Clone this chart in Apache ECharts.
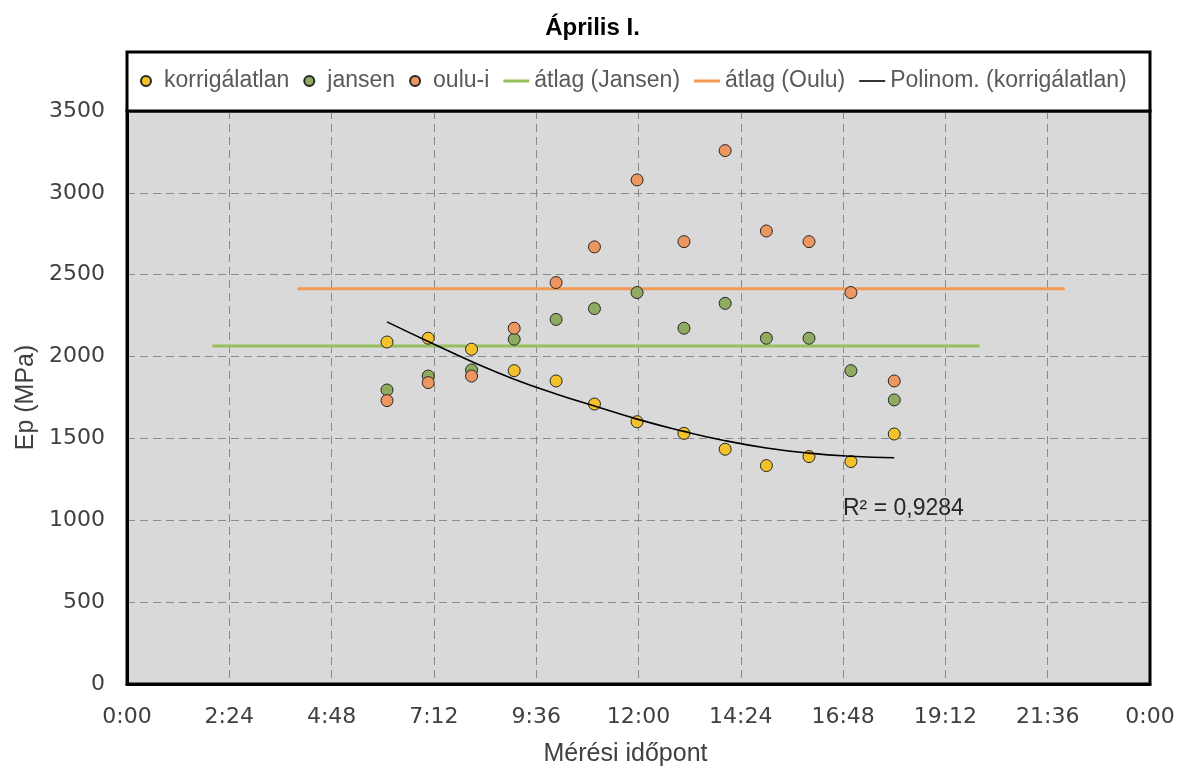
<!DOCTYPE html>
<html>
<head>
<meta charset="utf-8">
<title>Április I.</title>
<script src="https://cdn.jsdelivr.net/npm/echarts@6/dist/echarts.min.js"></script>
<style>
  html, body { margin: 0; padding: 0; background: #ffffff; }
  #chart { width: 1185px; height: 773px; }
</style>
</head>
<body>
<div id="chart"></div>
<script>
// Measurement times (H:MM) and the measured Ep values (MPa)
const measureTimes = ['6:06', '7:04', '8:05', '9:05', '10:04', '10:58', '11:58', '13:04', '14:02', '15:00', '16:00', '16:59', '18:00'];
const korrigalatlan = [2089, 2112, 2045, 1914, 1851, 1710, 1602, 1531, 1434, 1334, 1389, 1359, 1527];
const jansen = [1796, 1881, 1918, 2106, 2227, 2293, 2391, 2173, 2325, 2112, 2112, 1914, 1735];
const oulu = [1731, 1841, 1881, 2173, 2452, 2670, 3079, 2702, 3258, 2767, 2702, 2391, 1851];

// Average levels and the time span each average line covers
const avgJansen = 2065;
const avgJansenSpan = ['2:00', '20:00'];
const avgOulu = 2415;
const avgOuluSpan = ['4:00', '22:00'];

// Second-order polynomial trend of the uncorrected values
const trendTimes = ['6:06', '7:04', '8:05', '9:05', '10:04', '10:58', '11:58', '13:04', '14:02', '15:00', '16:00', '16:59', '18:00'];
const trendValues = [2212, 2092, 1970, 1862, 1772, 1698, 1618, 1543, 1486, 1442, 1410, 1391, 1382];
const trendR2 = '0,9284';

// Axis ranges (x in minutes of the day)
const xMin = 0, xMax = 1440, xStep = 144;
const yMin = 0, yMax = 3500, yStep = 500;

const toMinutes = s => { const [h, m] = s.split(':').map(Number); return h * 60 + m; };
const pad2 = n => (n < 10 ? '0' : '') + n;
const fmtTime = v => { const m = Math.round(v); return (Math.floor(m / 60) % 24) + ':' + pad2(m % 60); };
const pairs = (times, vals) => times.map((t, i) => [toMinutes(t), vals[i]]);

const tickFont = 'DejaVu Sans';
const textFont = 'Liberation Sans, Arial, sans-serif';

// thin bar icons for the line entries of the legend
const lineIcon = 'path://M0 0 H26 V3 H0 Z';
const thinLineIcon = 'path://M0 0 H26 V1.6 H0 Z';

const chart = echarts.init(document.getElementById('chart'), null, { renderer: 'canvas' });

const markerStyle = color => ({ color: color, borderColor: '#262626', borderWidth: 1, opacity: 1 });
const gridLines = { show: true, showMinLine: false, showMaxLine: false, lineStyle: { color: '#8a8a8a', width: 1, type: [8, 5] } };

chart.setOption({
  animation: false,
  backgroundColor: '#ffffff',
  title: {
    text: 'Április I.',
    left: 'center',
    top: 16,
    padding: 0,
    textStyle: { fontFamily: textFont, fontWeight: 'bold', fontSize: 24, color: '#000000' }
  },
  graphic: [
    {
      // legend frame sitting on top of the plot area
      type: 'rect',
      z: 1,
      shape: { x: 127, y: 52, width: 1023, height: 59 },
      style: { fill: '#ffffff', stroke: '#000000', lineWidth: 3 }
    },
    {
      type: 'text',
      z: 10,
      left: 843,
      top: 497,
      style: { text: 'R² = ' + trendR2, fontFamily: textFont, fontSize: 23, fill: '#262626' }
    }
  ],
  legend: {
    left: 140,
    top: 68,
    padding: 0,
    itemGap: 14,
    itemWidth: 26,
    itemHeight: 10,
    z: 5,
    textStyle: { fontFamily: textFont, fontSize: 23, color: '#595959', lineHeight: 26 },
    data: [
      { name: 'korrigálatlan' },
      { name: 'jansen' },
      { name: 'oulu-i' },
      { name: 'átlag (Jansen)', icon: lineIcon },
      { name: 'átlag (Oulu)', icon: lineIcon },
      { name: 'Polinom. (korrigálatlan)', icon: thinLineIcon }
    ]
  },
  grid: {
    left: 127,
    right: 35,
    top: 111,
    bottom: 89,
    show: true,
    backgroundColor: '#d9d9d9',
    borderColor: '#000000',
    borderWidth: 3
  },
  xAxis: {
    type: 'value',
    min: xMin,
    max: xMax,
    interval: xStep,
    name: 'Mérési időpont',
    nameLocation: 'middle',
    nameGap: 58,
    nameTextStyle: { fontFamily: textFont, fontSize: 25, color: '#404040', padding: [0, 26, 0, 0] },
    axisLine: { show: true, onZero: false, lineStyle: { color: '#000000', width: 3 } },
    axisTick: { show: false },
    axisLabel: { margin: 22, fontFamily: tickFont, fontSize: 22, color: '#404040', formatter: fmtTime },
    splitLine: gridLines
  },
  yAxis: {
    type: 'value',
    min: yMin,
    max: yMax,
    interval: yStep,
    name: 'Ep (MPa)',
    nameLocation: 'middle',
    nameGap: 84,
    nameTextStyle: { fontFamily: textFont, fontSize: 25, color: '#404040' },
    axisLine: { show: true, lineStyle: { color: '#000000', width: 3 } },
    axisTick: { show: false },
    axisLabel: { margin: 22, fontFamily: tickFont, fontSize: 22, color: '#404040', formatter: v => String(v) },
    splitLine: gridLines
  },
  series: [
    {
      name: 'korrigálatlan',
      type: 'scatter',
      z: 3,
      symbol: 'circle',
      symbolSize: 12,
      itemStyle: markerStyle('#f3c12a'),
      data: pairs(measureTimes, korrigalatlan)
    },
    {
      name: 'jansen',
      type: 'scatter',
      z: 3,
      symbol: 'circle',
      symbolSize: 12,
      itemStyle: markerStyle('#8fab5f'),
      data: pairs(measureTimes, jansen)
    },
    {
      name: 'oulu-i',
      type: 'scatter',
      z: 3,
      symbol: 'circle',
      symbolSize: 12,
      itemStyle: markerStyle('#ee9660'),
      data: pairs(measureTimes, oulu)
    },
    {
      name: 'átlag (Jansen)',
      type: 'line',
      z: 2,
      symbol: 'none',
      lineStyle: { color: '#97c05c', width: 3 },
      itemStyle: { color: '#97c05c' },
      data: avgJansenSpan.map(t => [toMinutes(t), avgJansen])
    },
    {
      name: 'átlag (Oulu)',
      type: 'line',
      z: 2,
      symbol: 'none',
      lineStyle: { color: '#f39a55', width: 3 },
      itemStyle: { color: '#f39a55' },
      data: avgOuluSpan.map(t => [toMinutes(t), avgOulu])
    },
    {
      name: 'Polinom. (korrigálatlan)',
      type: 'line',
      z: 4,
      symbol: 'none',
      smooth: true,
      lineStyle: { color: '#000000', width: 1.6 },
      itemStyle: { color: '#000000' },
      data: pairs(trendTimes, trendValues)
    }
  ]
});
</script>
</body>
</html>
